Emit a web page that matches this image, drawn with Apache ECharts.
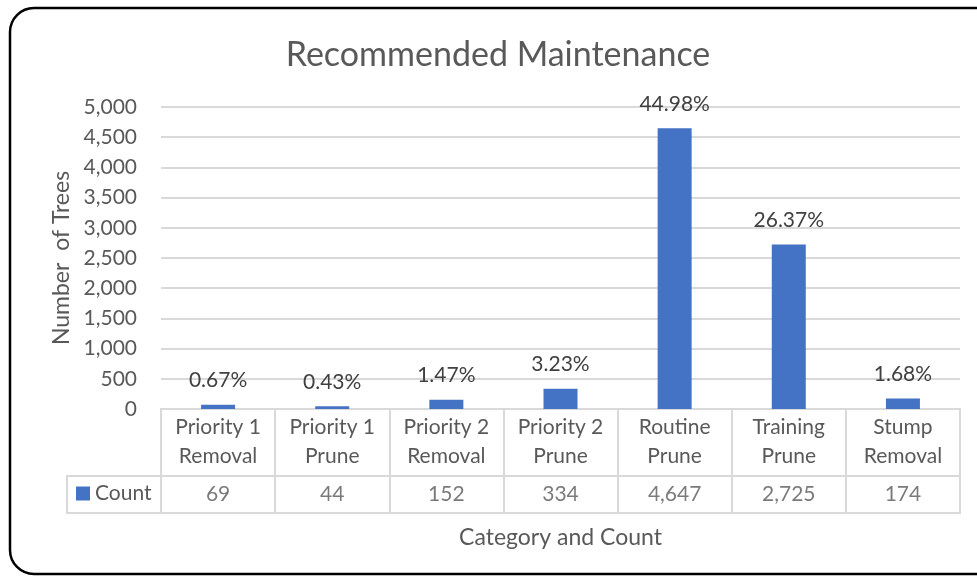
<!DOCTYPE html>
<html>
<head>
<meta charset="utf-8">
<script src="https://cdn.jsdelivr.net/npm/echarts@6/dist/echarts.min.js"></script>
<style>
  html, body { margin: 0; padding: 0; background: #fff; }
  #main { width: 977px; height: 577px; }
</style>
</head>
<body>
<div id="main"></div>
<script>
// data
const categories = ['Priority 1\nRemoval', 'Priority 1\nPrune', 'Priority 2\nRemoval', 'Priority 2\nPrune', 'Routine\nPrune', 'Training\nPrune', 'Stump\nRemoval']
const counts = [69, 44, 152, 334, 4647, 2725, 174]
const percentLabels = ['0.67%', '0.43%', '1.47%', '3.23%', '44.98%', '26.37%', '1.68%']
const yTicks = { min: 0, max: 5000, interval: 500 }

const FONT = 'Lato'
const GREY_TXT = '#595959'
const LINE = '#d9d9d9'
const BLUE = '#4472C4'

const fmt = (v) => Number(v).toLocaleString('en-US')

const chart = echarts.init(document.getElementById('main'))

const option = {
    animation: false,
    textStyle: { fontFamily: FONT },
    title: {
        text: 'Recommended Maintenance',
        left: 498,
        top: 38,
        textAlign: 'center',
        padding: 0,
        textStyle: { fontFamily: FONT, fontSize: 34, fontWeight: 'normal', color: GREY_TXT }
    },
    legend: {
        data: ['Count'],
        left: 76,
        top: 483,
        padding: 0,
        itemWidth: 14,
        itemHeight: 14,
        itemGap: 4,
        icon: 'rect',
        textStyle: { fontFamily: FONT, fontSize: 21, color: GREY_TXT, padding: [0, 0, 0, 0] }
    },
    grid: [
        // bar area
        { left: 161, right: 17, top: 107, height: 302 },
        // category names row
        { left: 161, right: 17, top: 409, height: 67, show: true, borderColor: LINE, borderWidth: 2 },
        // count row
        { left: 161, right: 17, top: 476, height: 37, show: true, borderColor: LINE, borderWidth: 2 }
    ],
    xAxis: [
        {
            type: 'category', gridIndex: 0, data: categories,
            axisLine: { show: false }, axisTick: { show: false },
            axisLabel: { show: false }
        },
        {
            type: 'category', gridIndex: 1, data: categories, position: 'top',
            axisLine: { show: false }, axisTick: { show: false },
            splitLine: { show: true, lineStyle: { color: LINE, width: 2 } },
            axisLabel: {
                inside: true, margin: 4, interval: 0,
                fontFamily: FONT, fontSize: 21, lineHeight: 29, color: GREY_TXT,
                verticalAlign: 'top'
            }
        },
        {
            type: 'category', gridIndex: 2, data: categories,
            axisLine: { show: false }, axisTick: { show: false },
            splitLine: { show: true, lineStyle: { color: LINE, width: 2 } },
            axisLabel: { show: false },
            name: 'Category and Count',
            nameLocation: 'middle',
            nameGap: 13,
            nameTextStyle: { fontFamily: FONT, fontSize: 23, color: GREY_TXT, verticalAlign: 'top' }
        }
    ],
    yAxis: [
        {
            type: 'value', gridIndex: 0,
            min: yTicks.min, max: yTicks.max, interval: yTicks.interval,
            axisLine: { show: false }, axisTick: { show: false },
            splitLine: { lineStyle: { color: LINE, width: 2 } },
            axisLabel: {
                margin: 24, fontFamily: FONT, fontSize: 21, color: GREY_TXT,
                formatter: (v) => fmt(v)
            },
            name: 'Number  of Trees',
            nameLocation: 'middle',
            nameGap: 87,
            nameTextStyle: { fontFamily: FONT, fontSize: 23, color: GREY_TXT }
        },
        { type: 'value', gridIndex: 1, show: false, min: 0, max: 1 },
        { type: 'value', gridIndex: 2, show: false, min: -1, max: 1 }
    ],
    series: [
        {
            name: 'Count',
            type: 'bar',
            xAxisIndex: 0, yAxisIndex: 0,
            data: counts,
            barWidth: 34,
            itemStyle: { color: BLUE },
            label: {
                show: true,
                position: 'top',
                distance: 14,
                fontFamily: FONT,
                fontSize: 21,
                color: '#404040',
                formatter: (p) => percentLabels[p.dataIndex]
            }
        },
        {
            type: 'scatter',
            xAxisIndex: 2, yAxisIndex: 2,
            data: counts.map((c, i) => [i, 0, c]),
            symbolSize: 0,
            silent: true,
            label: {
                show: true,
                position: 'inside',
                fontFamily: FONT,
                fontSize: 21,
                color: GREY_TXT,
                formatter: (p) => fmt(p.value[2])
            }
        }
    ],
    graphic: [
        // legend cell of the data table
        {
            type: 'rect',
            shape: { x: 67, y: 476, width: 94, height: 37 },
            style: { fill: 'none', stroke: LINE, lineWidth: 2 },
            silent: true
        },
        // outer chart frame
        {
            type: 'rect',
            shape: { x: 10, y: 8, width: 1000, height: 566, r: 24 },
            style: { fill: 'none', stroke: '#000', lineWidth: 2.5 },
            silent: true,
            z: 100
        }
    ]
}

chart.setOption(option)
window.addEventListener('resize', () => {
    chart.resize()
})
</script>
</body>
</html>
